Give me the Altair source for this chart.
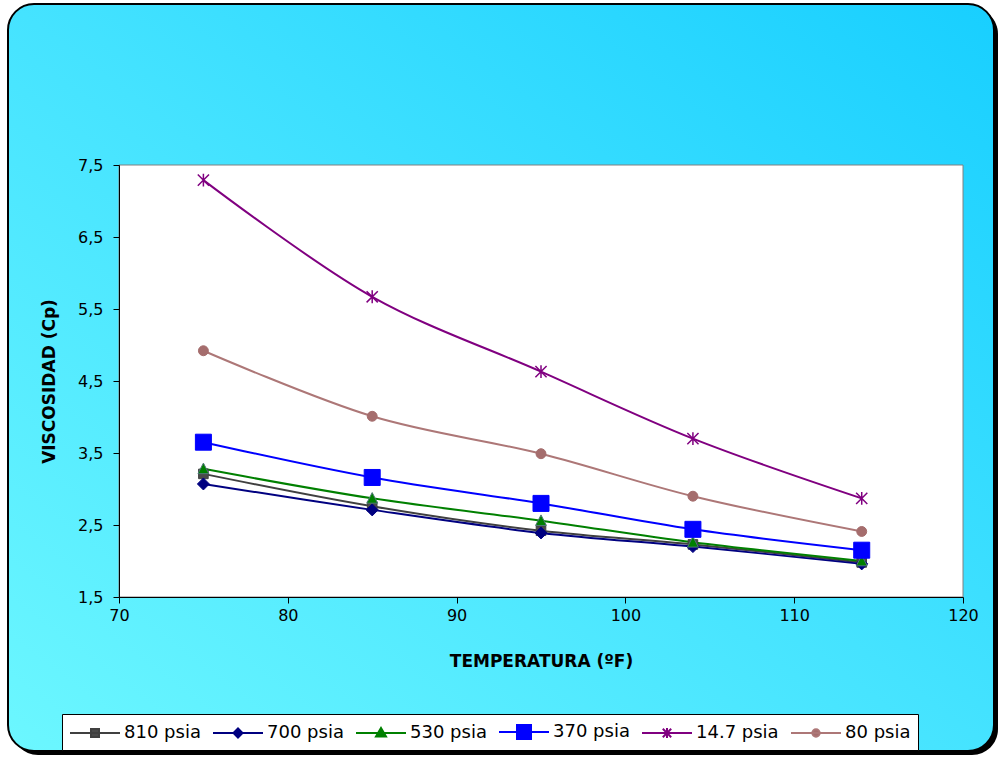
import altair as alt
import pandas as pd

# ---- data ----
temps = [75, 85, 95, 104, 114]
series = ["810 psia", "700 psia", "530 psia", "370 psia", "14.7 psia", "80 psia"]
v810 = [3.21, 2.76, 2.42, 2.23, 1.98]
v700 = [3.07, 2.71, 2.39, 2.20, 1.96]
v530 = [3.28, 2.87, 2.56, 2.26, 2.00]
v370 = [3.65, 3.16, 2.80, 2.44, 2.15]
v147 = [7.29, 5.67, 4.63, 3.70, 2.87]
v80 = [4.92, 4.01, 3.49, 2.90, 2.41]
values = [v810, v700, v530, v370, v147, v80]
x_ticks = [70, 80, 90, 100, 110, 120]
y_ticks = [1.5, 2.5, 3.5, 4.5, 5.5, 6.5, 7.5]

# ---- styles ----
line_colors = ["#404040", "#000080", "#008000", "#0000ff", "#800080", "#ad7777"]
fill_colors = ["#4a4a4a", "#000080", "#008000", "#0000ff", "#800080", "#a56d6d"]
stroke_colors = ["#404040", "#000080", "#4f7777", "#0000ff", "#800080", "#a56d6d"]
legend_stroke_colors = ["#404040", "#000080", "#008000", "#0000ff", "#800080", "#ad7777"]

plot_paths = [
    "M-0.6,-0.6H0.6V0.6H-0.6Z",
    "M-0.75,0L0,-0.75L0.75,0L0,0.75Z",
    "M0,-0.72L0.68,0.6H-0.68Z",
    "M-1,-1H1V1H-1Z",
    "M-0.7,-0.7L0.7,0.7M-0.7,0.7L0.7,-0.7M0,-0.8V0.8",
    "M-0.62,0A0.62,0.62,0,1,0,0.62,0A0.62,0.62,0,1,0,-0.62,0Z",
]
# legend symbols: unit = 10 px (symbolSize 400)
legend_paths = [
    "M-2.5,0H2.5M-0.4,-0.4H0.4V0.4H-0.4Z",
    "M-2.5,0H2.5M-0.45,0L0,-0.45L0.45,0L0,0.45Z",
    "M-2.5,0H2.5M0,-0.5L0.5,0.35H-0.5Z",
    "M-2.5,0H2.5M-0.7,-0.7H0.7V0.7H-0.7Z",
    "M-2.5,0H2.5M-0.42,-0.42L0.42,0.42M-0.42,0.42L0.42,-0.42M0,-0.5V0.5",
    "M-2.5,0H2.5M-0.37,0A0.37,0.37,0,1,0,0.37,0A0.37,0.37,0,1,0,-0.37,0Z",
]

rows = []
for s, vals in zip(series, values):
    for t, v in zip(temps, vals):
        rows.append({"series": s, "temp": t, "visc": v})
df = pd.DataFrame(rows)

W, H = 844, 432
FONT = "DejaVu Sans"

x_enc = alt.X(
    "temp:Q",
    scale=alt.Scale(domain=[70, 120], nice=False, zero=False),
    axis=alt.Axis(
        title="TEMPERATURA (ºF)", values=x_ticks, format="d", labelFlush=False,
        tickSize=6, labelPadding=4, titlePadding=30, grid=False, zindex=5,
    ),
)
y_enc = alt.Y(
    "visc:Q",
    scale=alt.Scale(domain=[1.5, 7.5], nice=False, zero=False),
    axis=alt.Axis(
        title="VISCOSIDAD (Cp)", values=y_ticks, labelFlush=False,
        labelExpr="replace(format(datum.value, '.1f'), '.', ',')",
        tickSize=6, labelPadding=10, titlePadding=19, grid=False, zindex=5,
    ),
)

one = alt.Data(values=[{"k": 1}])

# legend source layer (drawn first, hidden under the frame)
leg = alt.Legend(
    title=None, orient="none", legendX=-57, legendY=549, direction="horizontal",
    columns=6, symbolSize=400, symbolStrokeWidth=2,
    symbolOffset=15, labelOffset=18,
    labelFont=FONT, labelFontSize=18, labelColor="black",
    columnPadding=8, padding=7, fillColor="white",
    strokeColor="black", labelLimit=300, zindex=5,
)
legend_layer = alt.Chart(df).mark_point(filled=True, opacity=1).encode(
    x=x_enc, y=y_enc,
    shape=alt.Shape("series:N", scale=alt.Scale(domain=series, range=legend_paths), legend=leg),
    fill=alt.Fill("series:N", scale=alt.Scale(domain=series, range=fill_colors), legend=leg),
    stroke=alt.Stroke("series:N", scale=alt.Scale(domain=series, range=legend_stroke_colors), legend=leg),
)

shadow = alt.Chart(one).mark_rect(color="black", cornerRadius=26).encode(
    x=alt.value(-107), x2=alt.value(879), y=alt.value(-157), y2=alt.value(590)
)
bg = alt.Chart(one).mark_rect(
    cornerRadius=26,
    fill=alt.LinearGradient(
        gradient="linear",
        stops=[alt.GradientStop(color="#6cf7ff", offset=0),
               alt.GradientStop(color="#45e3ff", offset=0.5),
               alt.GradientStop(color="#18cfff", offset=1)],
        x1=0, y1=1, x2=1, y2=0,
    ),
    stroke="black", strokeWidth=2,
).encode(x=alt.value(-111), x2=alt.value(875), y=alt.value(-161), y2=alt.value(586))

plot_bg = alt.Chart(one).mark_rect(fill="white", stroke="#808080", strokeWidth=1).encode(
    x=alt.value(0), x2=alt.value(W), y=alt.value(0), y2=alt.value(H)
)

lines = alt.Chart(df).mark_line(interpolate="catmull-rom", strokeWidth=2).encode(
    x=x_enc, y=y_enc,
    color=alt.Color("series:N", scale=alt.Scale(domain=series, range=line_colors), legend=None),
)

point_layers = []
for i, s in enumerate(series):
    point_layers.append(
        alt.Chart(df).transform_filter(alt.datum.series == s).mark_point(
            shape=plot_paths[i], filled=True, size=256, opacity=1,
            fill=fill_colors[i], stroke=stroke_colors[i],
            strokeWidth=1.5 if i == 4 else 1,
        ).encode(x=x_enc, y=y_enc)
    )

chart = alt.layer(legend_layer, shadow, bg, plot_bg, lines, *point_layers).properties(
    width=W, height=H,
    padding={"left": 119, "top": 165, "right": 37, "bottom": 160},
    autosize="none",
).configure(background="white").configure_view(stroke=None).configure_axis(
    domainColor="black", tickColor="black", domainWidth=1, tickWidth=1,
    labelFont=FONT, labelFontSize=16, labelColor="black",
    titleFont=FONT, titleFontSize=17, titleFontWeight="bold", titleColor="black",
)

chart.save("out.html", embed_options={"renderer": "svg", "actions": False})
